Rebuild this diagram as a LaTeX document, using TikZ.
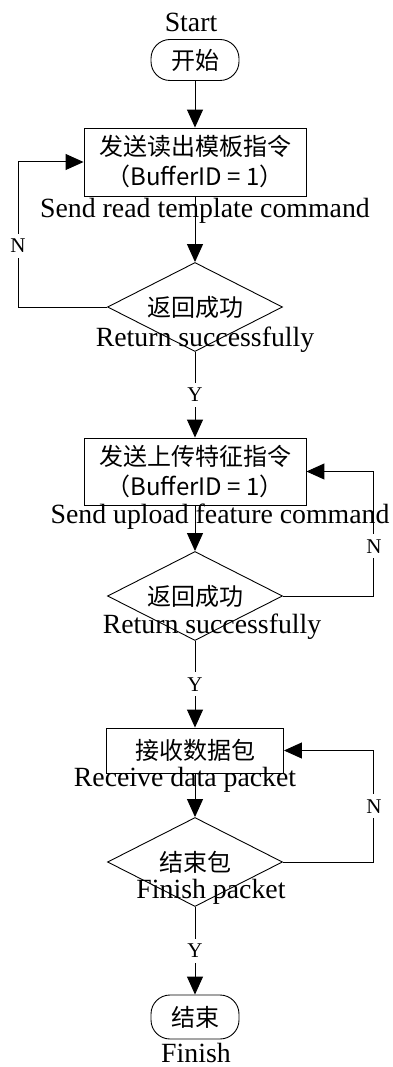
\documentclass[tikz,border=0pt]{standalone}
\usepackage{fontspec}
\setmainfont{Liberation Serif}
\newfontfamily\cjk{Noto Sans CJK SC}
\usetikzlibrary{shapes.geometric,arrows.meta}

\tikzset{
 term/.style={draw,rectangle,rounded corners=19pt,minimum width=88pt,minimum height=41pt,inner sep=0pt,line width=0.9pt,font=\cjk\fontsize{24}{30}\selectfont},
 procbox/.style={draw,rectangle,inner sep=0pt,align=center,line width=0.9pt,font=\cjk\fontsize{24}{30}\selectfont},
 decide/.style={draw,diamond,aspect=1.94,inner sep=0pt,minimum width=175pt,minimum height=89pt,line width=0.9pt,font=\cjk\fontsize{24}{30}\selectfont},
 lbl/.style={inner sep=0pt,font=\fontsize{27.8}{30}\selectfont},
 yn/.style={fill=white,inner xsep=1pt,inner ysep=5pt,font=\fontsize{21}{21}\selectfont},
 flow/.style={line width=1pt,-{Triangle[length=18pt,width=16pt]}}
}

\begin{document}
\begin{tikzpicture}[x=1pt,y=-1pt]
\useasboundingbox (0,0) rectangle (393,1067);

\node[lbl] (startlbl) at (191,22) {Start};
\node[term] (start) at (195,60) {开始};

\node[procbox,minimum width=222pt,minimum height=68pt] (readcmd) at (195,162) {发送读出模板指令\\（BufferID = 1）};
\node[lbl] (readlbl) at (205,211) {Send read template command};

\node[decide] (readok) at (195,307) {返回成功};
\node[lbl] (readoklbl) at (205,340) {Return successfully};

\node[procbox,minimum width=222pt,minimum height=67pt] (upcmd) at (195,471.5) {发送上传特征指令\\（BufferID = 1）};
\node[lbl] (uplbl) at (220,517) {Send upload feature command};

\node[decide] (upok) at (195,596) {返回成功};
\node[lbl] (upoklbl) at (212,627) {Return successfully};

\node[procbox,minimum width=177pt,minimum height=45pt] (recv) at (195,750.5) {接收数据包};
\node[lbl] (recvlbl) at (185,780) {Receive data packet};

\node[decide] (finpkt) at (195,862) {结束包};
\node[lbl] (finpktlbl) at (211,892) {Finish packet};

\node[term,minimum height=44pt] (stop) at (195,1017) {结束};
\node[lbl] (stoplbl) at (196,1053) {Finish};

\draw[flow] (start) -- (readcmd);
\draw[flow] (readcmd) -- (readok);
\draw[flow] (readok) -- node[yn]{Y} (upcmd);
\draw[flow] (readok.west) -- ++(-89,0) |- node[yn,pos=0.21]{N} (readcmd.west);

\draw[flow] (upcmd) -- (upok);
\draw[flow] (upok) -- node[yn]{Y} (recv);
\draw[flow] (upok.east) -- ++(91,0) |- node[yn,pos=0.2]{N} (upcmd.east);

\draw[flow] (recv) -- (finpkt);
\draw[flow] (finpkt) -- node[yn]{Y} (stop);
\draw[flow] (finpkt.east) -- ++(91,0) |- node[yn,pos=0.25]{N} (recv.east);
\end{tikzpicture}
\end{document}
